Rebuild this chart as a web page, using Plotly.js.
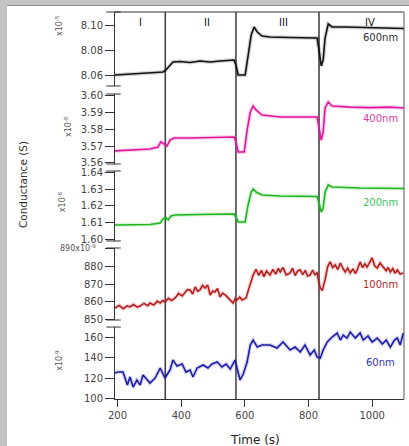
<!DOCTYPE html>
<html>
<head>
<meta charset="utf-8">
<script src="https://cdn.plot.ly/plotly-3.0.1.min.js"></script>
<style>
html,body{margin:0;padding:0;background:#c3c3c3;width:409px;height:446px;overflow:hidden;}
#wrap{position:absolute;left:7px;top:5px;width:402px;height:441px;background:#fff;border-top:1px solid #8a8a8a;}
#plot{width:402px;height:440px;}
</style>
</head>
<body>
<div id="wrap"><div id="plot"></div></div>
<script>
// ---- data (time in s, conductance values) ----
const t600 = [192,239,302,343,352,362,374,396,428,459,491,522,566,572,579,601,610,620,629,639,654,679,742,805,827,833,840,846,852,862,874,915,962,1025,1100];
const g600 = [8.0600,8.0608,8.0616,8.0624,8.0640,8.0672,8.0704,8.0708,8.0700,8.0712,8.0704,8.0712,8.0720,8.0680,8.0600,8.0600,8.0760,8.0920,8.0984,8.0944,8.0912,8.0904,8.0900,8.0896,8.0896,8.0800,8.0672,8.0720,8.0896,8.1008,8.0984,8.0984,8.0980,8.0976,8.0972];

const t400 = [192,239,302,327,336,346,355,365,377,428,491,566,572,579,598,607,617,626,635,654,711,773,827,833,840,846,852,862,874,931,994,1057,1100];
const g400 = [3.5671,3.5676,3.5682,3.5694,3.5724,3.5712,3.5700,3.5735,3.5747,3.5747,3.5750,3.5753,3.5724,3.5665,3.5665,3.5794,3.5900,3.5935,3.5912,3.5882,3.5871,3.5871,3.5871,3.5806,3.5735,3.5782,3.5924,3.5959,3.5935,3.5929,3.5926,3.5929,3.5924];

const t200 = [192,239,302,334,343,352,359,368,381,459,566,572,579,601,610,620,626,635,654,711,827,833,840,846,852,862,874,962,1100];
const g200 = [1.6088,1.6088,1.6091,1.6100,1.6124,1.6130,1.6118,1.6141,1.6147,1.6150,1.6153,1.6135,1.6106,1.6106,1.6206,1.6282,1.6300,1.6282,1.6265,1.6259,1.6256,1.6218,1.6165,1.6188,1.6282,1.6324,1.6312,1.6306,1.6303];

const t100 = [192,205,218,230,239,250,262,271,283,295,302,314,325,334,342,349,360,370,381,392,403,412,420,428,436,444,452,459,467,475,483,491,499,506,514,522,530,540,547,555,563,570,576,584,591,598,604,611,617,626,635,644,652,660,668,679,688,697,705,711,720,730,742,750,758,766,774,782,790,797,805,813,820,827,832,837,843,852,860,868,876,884,892,900,908,915,923,931,940,947,953,962,970,977,984,992,1000,1008,1016,1025,1035,1044,1050,1057,1065,1072,1079,1088,1098];
const g100 = [856.3,857.8,855.9,857.5,856.9,858.3,856.8,857.4,858.9,857.6,859.1,858.0,860.2,859.1,860.5,859.7,861.8,860.6,862.0,864.6,863.2,864.9,866.8,866.6,864.3,868.3,865.9,866.6,869.2,867.7,869.5,863.7,866.0,865.4,867.4,862.6,864.8,863.5,862.0,860.5,859.1,861.7,860.9,862.6,860.9,861.5,862.0,866.5,870.6,875.1,878.4,874.9,877.8,874.2,877.4,875.1,878.3,875.6,878.9,876.9,879.4,875.2,876.3,879.0,874.8,877.5,878.0,875.3,877.8,874.6,875.1,877.9,875.4,876.3,871.5,867.7,866.2,872.3,879.8,882.6,879.4,880.9,878.2,882.0,879.0,876.9,879.1,876.3,878.7,876.0,878.0,882.6,879.3,881.5,879.7,882.4,884.9,880.2,879.1,882.0,879.7,877.6,879.5,876.9,878.8,876.1,878.0,875.7,876.3];

const t60 = [192,201,217,224,231,239,249,261,271,280,293,302,318,334,349,365,374,387,403,415,428,437,450,469,484,497,513,528,541,554,569,579,585,595,607,617,626,639,654,679,701,720,742,758,774,789,805,818,827,837,846,859,874,890,900,909,921,931,947,962,972,987,1000,1016,1032,1044,1057,1070,1079,1088,1098];
const g60 = [125.2,126.1,126.1,120.3,113.5,121.3,111.6,118.4,113.5,123.2,118.4,115.5,120.3,130.0,120.3,128.1,137.7,131.9,133.9,126.1,128.1,121.3,130.0,132.9,130.0,133.9,135.8,131.0,133.9,129.0,137.7,126.1,118.4,124.2,135.8,152.3,157.1,150.3,152.3,152.3,149.4,155.2,147.4,150.3,145.5,152.3,142.6,147.4,140.6,139.7,147.4,155.2,160.0,163.9,157.1,161.9,159.0,164.8,159.0,163.9,157.1,161.0,155.2,159.0,153.2,157.1,150.3,157.1,159.0,152.3,163.9];

const seriesNames = ['600nm','400nm','200nm','100nm','60nm'];
const seriesColors = ['#111111','#e0169c','#1fb51f','#b81c1c','#1c1ca8'];
const labelColors = ['#333333','#e03aa8','#3cc060','#b02a2a','#3535b5'];
const stageLabels = ['I','II','III','IV'];
const stageCenters = [271,481,720,994];
const stageBounds = [350,572,833];
const multipliers = ['x10<sup>-5</sup>','x10<sup>-6</sup>','x10<sup>-6</sup>','890x10<sup>-9</sup>','x10<sup>-9</sup>'];

const ticks600 = [8.06,8.08,8.10];
const ticks400 = [3.56,3.57,3.58,3.59,3.60];
const ticks200 = [1.60,1.61,1.62,1.63,1.64];
const ticks100 = [850,860,870,880,890];
const text100 = ['850','860','870','880',''];
const ticks60 = [100,120,140,160];
const xTicks = [200,400,600,800,1000];

// ---- layout geometry ----
const domains = [[0.8088,1.0],[0.6072,0.7881],[0.4083,0.5891],[0.2041,0.3902],[0,0.1860]];
const ranges = [[8.0512,8.1104],[3.5594,3.6006],[1.5994,1.6406],[849.43,890.57],[100,169.7]];
const tickSets = [ticks600,ticks400,ticks200,ticks100,ticks60];

const xs = [t600,t400,t200,t100,t60];
const ys = [g600,g400,g200,g100,g60];

const traces = [];
for (let i=0;i<5;i++){
  traces.push({x:xs[i],y:ys[i],type:'scatter',mode:'lines',xaxis:'x',yaxis:'y'+(i+1),
    line:{color:seriesColors[i],width:4},opacity:0.18,hoverinfo:'skip',showlegend:false});
  traces.push({x:xs[i],y:ys[i],type:'scatter',mode:'lines',xaxis:'x',yaxis:'y'+(i+1),
    line:{color:seriesColors[i],width:1.6},name:seriesNames[i],showlegend:false});
}

const FONT = 'DejaVu Sans, Verdana, sans-serif';
const tickfont = {family:FONT,size:10,color:'#444'};
const layout = {
  width:402,height:440,
  margin:{l:108,r:5,t:6,b:47},
  paper_bgcolor:'#ffffff',plot_bgcolor:'#ffffff',
  showlegend:false,
  xaxis:{range:[192,1100],tickvals:xTicks,ticks:'outside',ticklen:7,tickcolor:'#333',
    showline:true,linecolor:'#333',linewidth:1,showgrid:false,zeroline:false,
    anchor:'y5',tickfont:tickfont},
  shapes:[],annotations:[]
};
for (let i=0;i<5;i++){
  const ax = {domain:domains[i],range:ranges[i],anchor:'x',tickvals:tickSets[i],
    ticks:'outside',ticklen:9,tickcolor:'#333',showline:true,linecolor:'#333',linewidth:1,
    showgrid:false,zeroline:false,tickfont:tickfont};
  if (i<3) ax.tickformat='.2f';
  if (i===3) ax.ticktext=text100;
  layout['yaxis'+(i===0?'':(i+1))] = ax;
  for (const yy of domains[i]){
    if (yy===0) continue;
    layout.shapes.push({type:'line',xref:'paper',yref:'paper',x0:-0.03,x1:0.02,y0:yy,y1:yy,
      line:{color:'#333',width:1}});
  }
}
for (const b of stageBounds){
  layout.shapes.push({type:'line',xref:'x',yref:'paper',x0:b,x1:b,y0:0,y1:1,
    line:{color:'#3a3a3a',width:1.5},layer:'below'});
}
layout.shapes.push({type:'line',xref:'paper',yref:'paper',x0:0,x1:1,y0:1,y1:1,line:{color:'#333',width:1}});
layout.shapes.push({type:'line',xref:'paper',yref:'paper',x0:1,x1:1,y0:0,y1:1,line:{color:'#555',width:1}});

for (let i=0;i<4;i++){
  layout.annotations.push({text:stageLabels[i],xref:'x',yref:'paper',x:stageCenters[i],y:0.972,
    xanchor:'center',yanchor:'middle',showarrow:false,font:{family:FONT,size:10,color:'#111'}});
}
const labelY = [0.933,0.726,0.509,0.295,0.0956];
for (let i=0;i<5;i++){
  layout.annotations.push({text:seriesNames[i],xref:'paper',yref:'paper',x:0.917,y:labelY[i],
    xanchor:'center',yanchor:'middle',showarrow:false,font:{family:FONT,size:10,color:labelColors[i]}});
}
const multX = [-0.194,-0.163,-0.183,-0.059,-0.194];
const multY = [0.966,0.705,0.509,0.390,0.101];
for (let i=0;i<5;i++){
  const a = {text:multipliers[i],xref:'paper',yref:'paper',x:multX[i],y:multY[i],showarrow:false,
    yanchor:'middle',font:{family:FONT,size:8,color:'#555'}};
  if (i===3){ a.xanchor='right'; } else { a.textangle=-90; a.xanchor='center'; }
  layout.annotations.push(a);
}
layout.annotations.push({text:'Conductance (S)',xref:'paper',yref:'paper',x:-0.318,y:0.553,
  xanchor:'center',yanchor:'middle',textangle:-90,showarrow:false,font:{family:FONT,size:10.5,color:'#333'}});
layout.annotations.push({text:'Time (s)',xref:'paper',yref:'paper',x:0.484,y:-0.106,
  xanchor:'center',yanchor:'middle',showarrow:false,font:{family:FONT,size:12,color:'#222'}});

Plotly.newPlot('plot',traces,layout,{displayModeBar:false,staticPlot:true});
</script>
</body>
</html>
